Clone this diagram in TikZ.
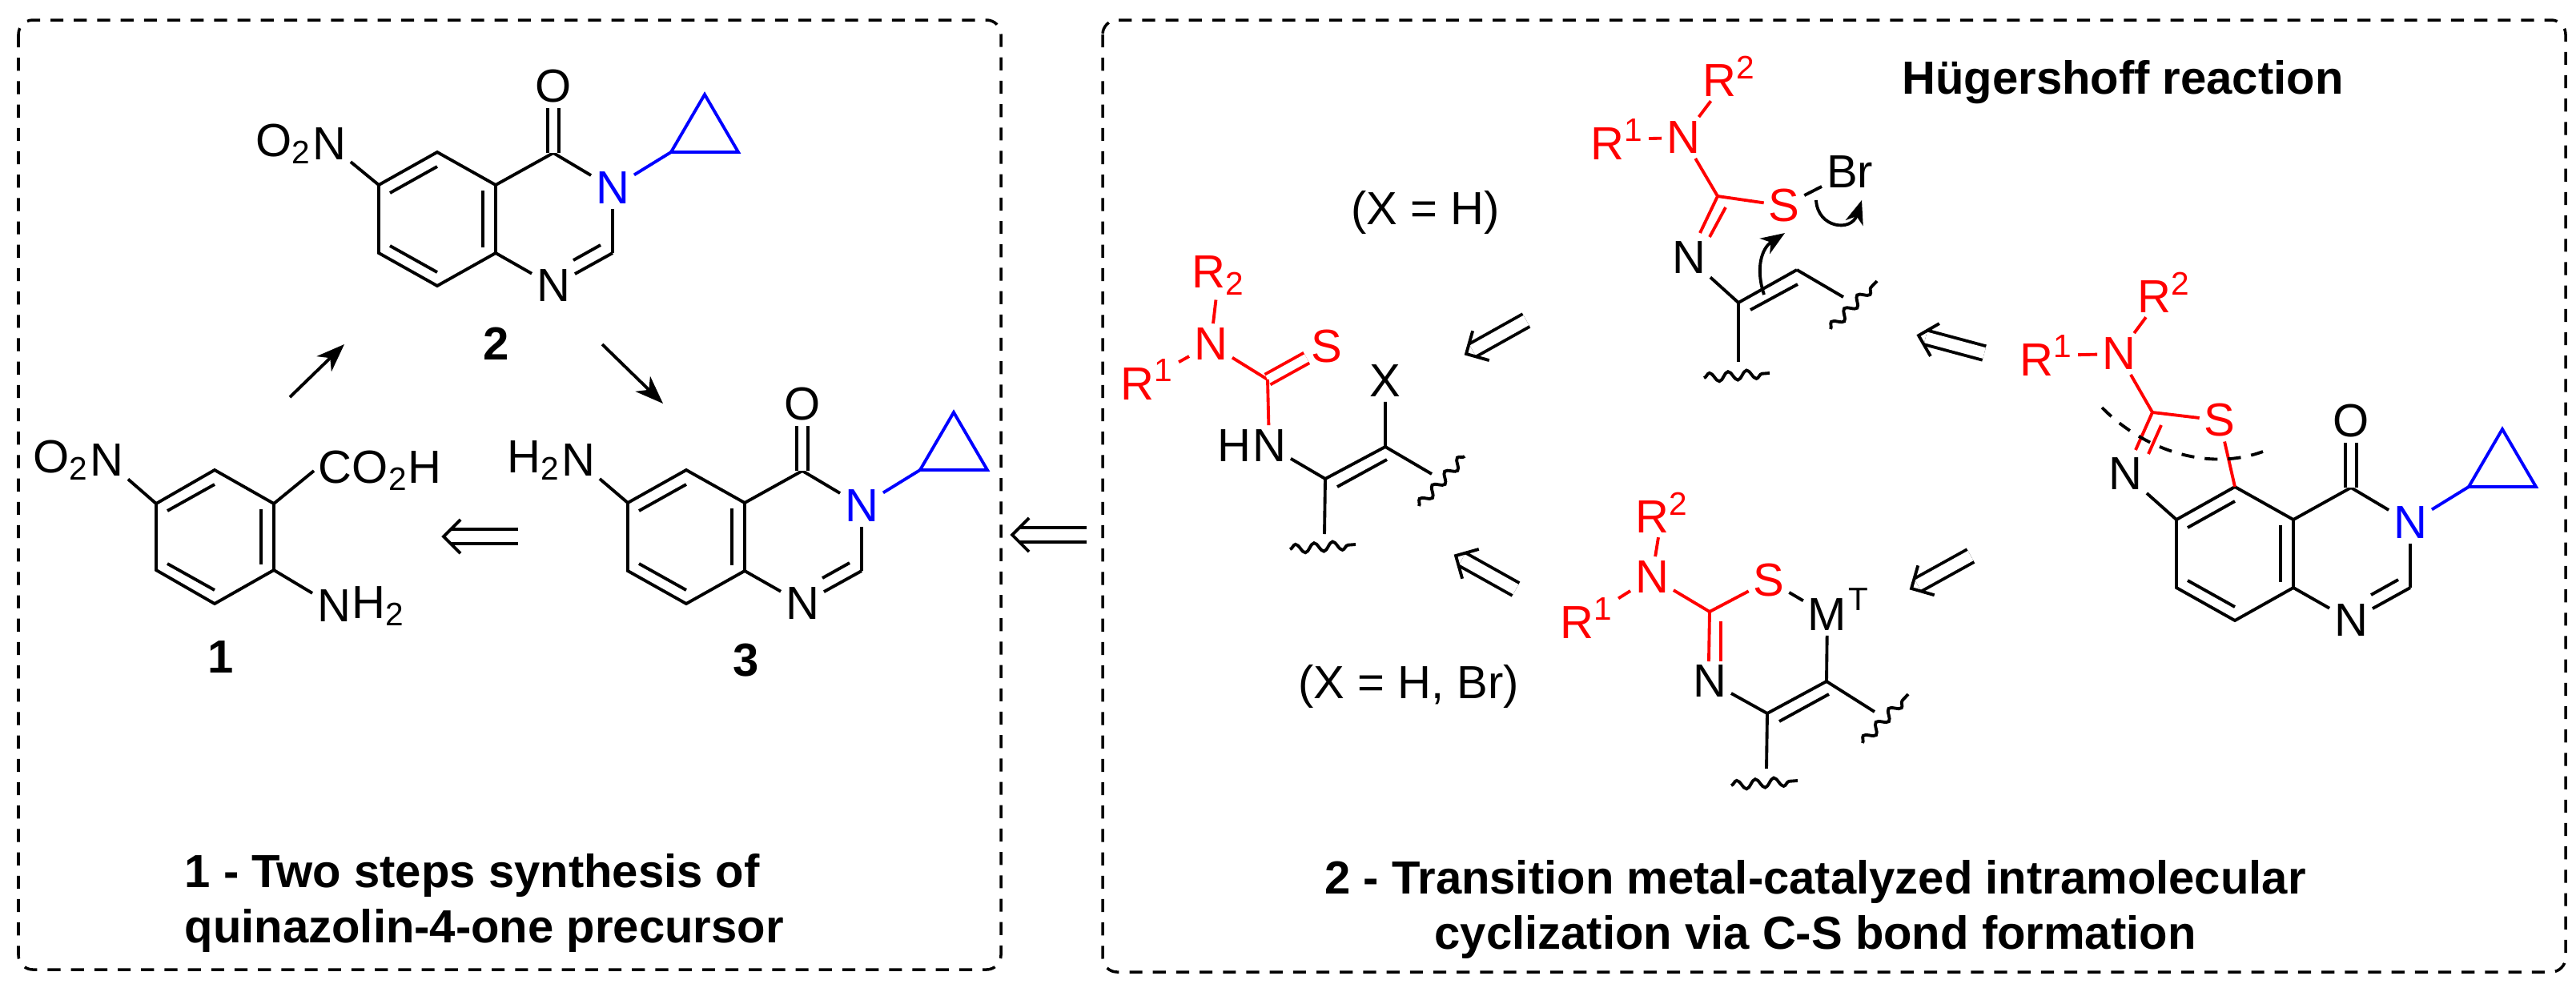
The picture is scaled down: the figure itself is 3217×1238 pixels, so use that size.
\documentclass[tikz,border=0pt]{standalone}
\usepackage{fontspec}
\setmainfont{Liberation Sans}
\usetikzlibrary{arrows.meta, positioning, decorations.pathmorphing, decorations.markings}
\definecolor{hetred}{RGB}{255,0,0}
\definecolor{hetblue}{RGB}{0,0,255}
\newcommand{\atomfont}{\fontsize{16.5pt}{19.6pt}\selectfont}
\tikzset{
  atom/.style={inner sep=1.5pt, font=\atomfont},
  ratom/.style={atom, text=hetred},
  batom/.style={atom, text=hetblue},
  label/.style={inner sep=0pt, font=\atomfont\bfseries},
  bond/.style={line width=1.1pt},
  rbond/.style={bond, draw=hetred},
  bbond/.style={bond, draw=hetblue},
  dbond/.style={double, double distance=3pt},
  panel/.style={line width=1pt, dash pattern=on 4.6pt off 3.7pt, rounded corners=0.18cm},
  forward/.style={bond, -{Stealth[length=10pt, width=7.5pt, inset=3pt]}},
  curly/.style={bond, -{Stealth[length=8.5pt, width=6.5pt, inset=2.5pt]}},
  retrohead/.style={decoration={markings, mark=at position 1 with {
    \draw[bond, double=none, shorten >=0pt, line join=miter] (-6pt,6pt) -- (0pt,0pt) -- (-6pt,-6pt);}}, decorate},
  retro/.style={bond, double, double distance=4pt, shorten >=2.6pt, postaction={retrohead}},
  wavy/.style={bond, decorate, decoration={snake, segment length=6.6pt, amplitude=1.6pt}}
}
% quinazolinone core: prefix, shift
\newcommand{\quinazcore}[3]{
  \begin{scope}[shift={(#2,#3)}]
    \coordinate (#1C5) at (546,190);
    \coordinate (#1C4a) at (619,231);
    \coordinate (#1C8a) at (619,316);
    \coordinate (#1C8) at (546,357);
    \coordinate (#1C7) at (473,316);
    \coordinate (#1C6) at (473,231);
    \coordinate (#1C4) at (691,191);
    \coordinate (#1C2) at (765,316);
    \coordinate (#1Ca) at (838,190);
    \coordinate (#1Cb) at (880,118);
    \coordinate (#1Cc) at (922,190);
    \node (#1O) [atom] at (691,108) {O};
    \node (#1N3) [batom] at (765,235) {N};
    \node (#1N1) [atom] at (691,357) {N};
    \draw[bond] (#1C6) -- (#1C5) -- (#1C4a) -- (#1C8a) -- (#1C8) -- (#1C7) -- cycle;
    \draw[bond] (#1C4a) -- (#1C4);
    \draw[bond] (#1C4) -- (#1N3);
    \draw[bond] (#1N3) -- (#1C2);
    \draw[bond] (#1C2) -- (#1N1);
    \draw[bond] (#1N1) -- (#1C8a);
    \draw[bond, dbond] (#1C4) -- (#1O);
    \draw[bbond] (#1N3) -- (#1Ca);
    \draw[bbond] (#1Ca) -- (#1Cb) -- (#1Cc) -- cycle;
    \draw[bond] (487,241) -- (546,208);
    \draw[bond] (603,238) -- (603,309);
    \draw[bond] (487,307) -- (546,340);
    \draw[bond] (716,325) -- (750,306);
  \end{scope}
}
\begin{document}
\begin{tikzpicture}[x=0.01cm, y=-0.01cm]
  \useasboundingbox (0,0) rectangle (3217,1238);
  \draw[panel] (23,25) rectangle (1250,1211);
  \draw[panel] (1377,25) rectangle (3204,1214);

  % precursor 1
  \coordinate (oC1) at (342,712);
  \coordinate (oC2) at (342,629);
  \coordinate (oC3) at (268,587);
  \coordinate (oC4) at (195,629);
  \coordinate (oC5) at (195,712);
  \coordinate (oC6) at (268,754);
  \node (oN) [atom] at (133,575) {N};
  \node (oO) [atom, left=-3pt of oN] {O\textsubscript{2}};
  \node (oCO) [atom, anchor=west] at (392,588) {CO\textsubscript{2}H};
  \node (oNH) [atom] at (417,757) {N};
  \node (oHH) [atom, right=-3pt of oNH] {H\textsubscript{2}};
  \draw[bond] (oC1) -- (oC2) -- (oC3) -- (oC4) -- (oC5) -- (oC6) -- cycle;
  \draw[bond] (oN) -- (oC4);
  \draw[bond] (oC2) -- (oCO.west);
  \draw[bond] (oC1) -- (oNH);
  \draw[bond] (209,638) -- (268,605);
  \draw[bond] (326,636) -- (326,705);
  \draw[bond] (209,704) -- (268,737);

  % molecules 2 and 3
  \quinazcore{p}{0}{0}
  \node (pN) [atom] at (411,180) {N};
  \node (pOO) [atom, left=-3pt of pN] {O\textsubscript{2}};
  \draw[bond] (pN) -- (pC6);
  \quinazcore{q}{311}{397}
  \node (qN) [atom] at (722,575) {N};
  \node (qHH) [atom, left=-3pt of qN] {H\textsubscript{2}};
  \draw[bond] (qN) -- (qC6);

  \node (num1) [label] at (276,821) {1};
  \node (num2) [label] at (620,429) {2};
  \node (num3) [label] at (932,825) {3};
  \node (capA) [label, anchor=west, align=left] at (230,1128) {1 - Two steps synthesis of\\quinazolin-4-one precursor};

  \coordinate (f1a) at (362,496);
  \coordinate (f1b) at (430,430);
  \coordinate (f2a) at (752,430);
  \coordinate (f2b) at (828,504);
  \draw[forward] (f1a) -- (f1b);
  \draw[forward] (f2a) -- (f2b);
  \coordinate (r1a) at (647,670);
  \coordinate (r1b) at (554,670);
  \draw[retro] (r1a) -- (r1b);
  \coordinate (r2a) at (1357,668);
  \coordinate (r2b) at (1264,668);
  \draw[retro] (r2a) -- (r2b);

  % thiourea
  \node (tR1) [ratom] at (1433,474) {R\textsuperscript{1}};
  \node (tN) [ratom] at (1512,430) {N};
  \node (tR2) [ratom] at (1522,344) {R\textsubscript{2}};
  \coordinate (tC) at (1583,474);
  \node (tS) [ratom] at (1657,433) {S};
  \node (tNH) [atom] at (1585,557) {N};
  \node (tH) [atom, left=-3pt of tNH] {H};
  \node (tX) [atom] at (1730,476) {X};
  \coordinate (tV1) at (1655,598);
  \coordinate (tV2) at (1730,558);
  \coordinate (tE1) at (1654,667);
  \coordinate (tE2) at (1788,592);
  \coordinate (tW1a) at (1611,686);
  \coordinate (tW1b) at (1693,680);
  \coordinate (tW2a) at (1772,632);
  \coordinate (tW2b) at (1829,570);
  \draw[rbond] (tR1) -- (tN);
  \draw[rbond] (tN) -- (tR2);
  \draw[rbond] (tN) -- (tC);
  \draw[rbond, dbond] (tC) -- (tS);
  \draw[rbond] (tC) -- (tNH);
  \draw[bond] (tNH) -- (tV1) -- (tV2) -- (tX);
  \draw[bond] (1670,608) -- (1732,574);
  \draw[bond] (tV1) -- (tE1);
  \draw[bond] (tV2) -- (tE2);
  \draw[wavy] (tW1a) -- (tW1b);
  \draw[wavy] (tW2a) -- (tW2b);
  \node (txtH) [atom] at (1780,265) {(X = H)};
  \node (txtHBr) [atom] at (1759,857) {(X = H, Br)};

  % Hugershoff intermediate
  \node (hR1) [ratom] at (2020,174) {R\textsuperscript{1}};
  \node (hN) [ratom] at (2102,172) {N};
  \node (hR2) [ratom] at (2160,95) {R\textsuperscript{2}};
  \coordinate (hC) at (2145,245);
  \node (hS) [ratom] at (2228,257) {S};
  \node (hBr) [atom] at (2310,215) {Br};
  \node (hNb) [atom] at (2109,322) {N};
  \coordinate (hV1) at (2171,378);
  \coordinate (hV2) at (2244,337);
  \coordinate (hE1) at (2171,452);
  \coordinate (hE2) at (2302,371);
  \coordinate (hW1a) at (2128,472);
  \coordinate (hW1b) at (2210,466);
  \coordinate (hW2a) at (2286,411);
  \coordinate (hW2b) at (2344,351);
  \draw[rbond] (hR1) -- (hN);
  \draw[rbond] (hN) -- (hR2);
  \draw[rbond] (hN) -- (hC);
  \draw[rbond] (hC) -- (hS);
  \draw[rbond] (hC) -- (2123,291);
  \draw[rbond] (2155,259) -- (2135,296);
  \draw[bond] (hS) -- (hBr);
  \draw[bond] (hNb) -- (hV1) -- (hV2);
  \draw[bond] (2186,387) -- (2245,355);
  \draw[bond] (hV1) -- (hE1);
  \draw[bond] (hV2) -- (hE2);
  \draw[wavy] (hW1a) -- (hW1b);
  \draw[wavy] (hW2a) -- (hW2b);
  \coordinate (c1a) at (2203,368);
  \coordinate (c1b) at (2229,291);
  \coordinate (c2a) at (2268,250);
  \coordinate (c2b) at (2325,250);
  \draw[curly] (c1a) .. controls (2192,335) and (2200,310) .. (c1b);
  \draw[curly] (c2a) .. controls (2270,285) and (2312,290) .. (c2b);
  \node (capH) [label] at (2651,103) {Hügershoff reaction};

  % metal intermediate
  \node (mR1) [ratom] at (1982,772) {R\textsuperscript{1}};
  \node (mN) [ratom] at (2063,721) {N};
  \node (mR2) [ratom] at (2076,640) {R\textsuperscript{2}};
  \coordinate (mC) at (2135,764);
  \node (mS) [ratom] at (2209,725) {S};
  \node (mM) [atom] at (2282,768) {M};
  \node (mT) [atom, inner sep=0pt, font=\fontsize{11.5pt}{13pt}\selectfont] at (2321,749) {T};
  \node (mNb) [atom] at (2135,851) {N};
  \coordinate (mV1) at (2207,891);
  \coordinate (mV2) at (2281,851);
  \coordinate (mE1) at (2206,960);
  \coordinate (mE2) at (2341,889);
  \coordinate (mW1a) at (2162,981);
  \coordinate (mW1b) at (2245,975);
  \coordinate (mW2a) at (2326,928);
  \coordinate (mW2b) at (2383,867);
  \draw[rbond] (mR1) -- (mN);
  \draw[rbond] (mN) -- (mR2);
  \draw[rbond] (mN) -- (mC);
  \draw[rbond] (mC) -- (mS);
  \draw[rbond] (mC) -- (2134,826);
  \draw[rbond] (2149,776) -- (2149,826);
  \draw[bond] (mS) -- (mM);
  \draw[bond] (mM) -- (mV2);
  \draw[bond] (mNb) -- (mV1) -- (mV2);
  \draw[bond] (2222,901) -- (2284,867);
  \draw[bond] (mV1) -- (mE1);
  \draw[bond] (mV2) -- (mE2);
  \draw[wavy] (mW1a) -- (mW1b);
  \draw[wavy] (mW2a) -- (mW2b);

  % target
  \quinazcore{z}{2245}{418}
  \node (zR1) [ratom] at (2556,444) {R\textsuperscript{1}};
  \node (zN) [ratom] at (2646,442) {N};
  \node (zR2) [ratom] at (2703,365) {R\textsuperscript{2}};
  \coordinate (zC) at (2688,515);
  \node (zS) [ratom] at (2772,525) {S};
  \node (zNb) [atom] at (2654,592) {N};
  \draw[rbond] (zR1) -- (zN);
  \draw[rbond] (zN) -- (zR2);
  \draw[rbond] (zN) -- (zC);
  \draw[rbond] (zC) -- (zS);
  \draw[rbond] (zC) -- (2667,562);
  \draw[rbond] (2699,531) -- (2683,567);
  \draw[rbond] (zS) -- (zC5);
  \draw[bond] (zNb) -- (zC6);
  \coordinate (cutA) at (2625,509);
  \coordinate (cutB) at (2826,564);
  \draw[bond, dash pattern=on 4.6pt off 3.7pt] (cutA) .. controls (2675,560) and (2755,590) .. (cutB);

  \coordinate (r3a) at (1906,400);
  \coordinate (r3b) at (1831,442);
  \draw[retro] (r3a) -- (r3b);
  \coordinate (r4a) at (1893,736);
  \coordinate (r4b) at (1818,694);
  \draw[retro] (r4a) -- (r4b);
  \coordinate (r5a) at (2478,441);
  \coordinate (r5b) at (2396,419);
  \draw[retro] (r5a) -- (r5b);
  \coordinate (r6a) at (2461,694);
  \coordinate (r6b) at (2387,735);
  \draw[retro] (r6a) -- (r6b);

  \node (capB) [label, align=center] at (2267,1136) {2 - Transition metal-catalyzed intramolecular\\cyclization via C-S bond formation};
\end{tikzpicture}
\end{document}
